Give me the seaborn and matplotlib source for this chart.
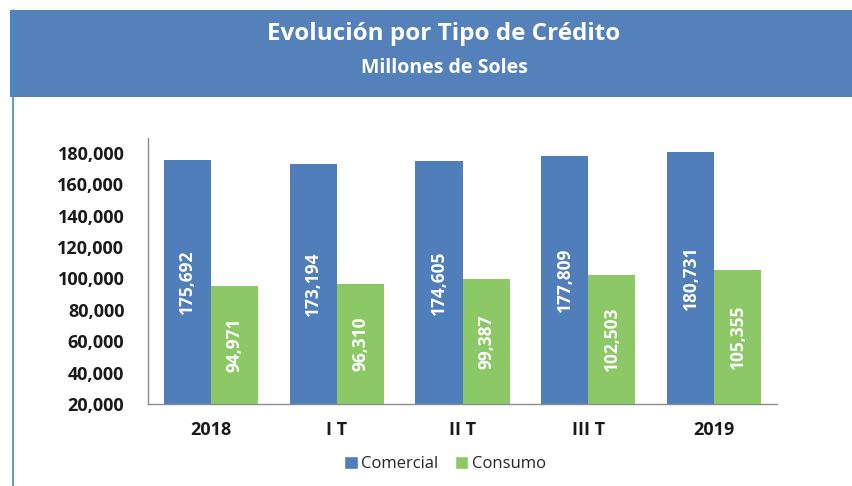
import pandas as pd
import matplotlib.pyplot as plt
import seaborn as sns
from matplotlib.patches import Rectangle, Patch
from matplotlib.lines import Line2D
from matplotlib.ticker import FuncFormatter

# Data
periodos = ["2018", "I T", "II T", "III T", "2019"]
comercial = [175692, 173194, 174605, 177809, 180731]
consumo = [94971, 96310, 99387, 102503, 105355]
tipos = ["Comercial", "Consumo"]

df = pd.DataFrame({
    "periodo": periodos * 2,
    "tipo": ["Comercial"] * len(periodos) + ["Consumo"] * len(periodos),
    "valor": comercial + consumo,
})

azul = "#4F7EBB"
verde = "#8CC866"
banner = "#5581BA"

sns.set_theme(style="white")
plt.rcParams["font.family"] = ["Open Sans", "DejaVu Sans"]

fig = plt.figure(figsize=(8.52, 4.86), dpi=100)
fig.patch.set_facecolor("white")

# Title banner and left frame line
fig.patches.append(Rectangle((10 / 852, 1 - 97 / 486), 1 - 10 / 852, 87 / 486,
                             transform=fig.transFigure, facecolor=banner,
                             edgecolor="none", zorder=0))
fig.lines.append(Line2D([13 / 852, 13 / 852], [0, 1 - 10 / 486],
                        transform=fig.transFigure, color="#3a8fd6", lw=1.2))
fig.text(444 / 852, 1 - 34 / 486, "Evolución por Tipo de Crédito", color="white",
         fontsize=17.5, fontweight="bold", ha="center", va="center")
fig.text(444 / 852, 1 - 68 / 486, "Millones de Soles", color="white",
         fontsize=14, fontweight="bold", ha="center", va="center")

ax = fig.add_axes([148 / 852, 1 - 404 / 486, (777 - 148) / 852, (404 - 138) / 486])
sns.barplot(data=df, x="periodo", y="valor", hue="tipo", hue_order=tipos,
            palette=[azul, verde], width=0.75, saturation=1, linewidth=0, ax=ax)

ax.set_ylim(20000, 189500)
ax.set_yticks(range(20000, 180001, 20000))
ax.yaxis.set_major_formatter(FuncFormatter(lambda v, p: f"{int(v):,}"))
ax.set_xlabel("")
ax.set_ylabel("")
for s in ["top", "right"]:
    ax.spines[s].set_visible(False)
for s in ["left", "bottom"]:
    ax.spines[s].set_color("#8c8c8c")
    ax.spines[s].set_linewidth(1)
ax.tick_params(axis="both", length=0, labelsize=13, colors="#1a1a1a")
ax.tick_params(axis="y", pad=17)
ax.tick_params(axis="x", pad=12)
for lab in ax.get_xticklabels() + ax.get_yticklabels():
    lab.set_fontweight("bold")

# Value labels in the middle of the visible part of each bar
ymin = ax.get_ylim()[0]
for cont, vals in zip(ax.containers, [comercial, consumo]):
    for patch, v in zip(cont.patches, vals):
        ax.text(patch.get_x() + patch.get_width() / 2, (ymin + v) / 2, f"{v:,}",
                rotation=90, ha="center", va="center", color="white",
                fontsize=12.5, fontweight="bold")

ax.get_legend().remove()
handles = [Patch(facecolor=azul, label="Comercial"), Patch(facecolor=verde, label="Consumo")]
fig.legend(handles=handles, loc="center", bbox_to_anchor=(445 / 852, 1 - 464 / 486),
           ncol=2, frameon=False, fontsize=12, handlelength=0.8, handleheight=0.8,
           handletextpad=0.2, columnspacing=1.0)

fig.savefig("out.png", dpi=100)
